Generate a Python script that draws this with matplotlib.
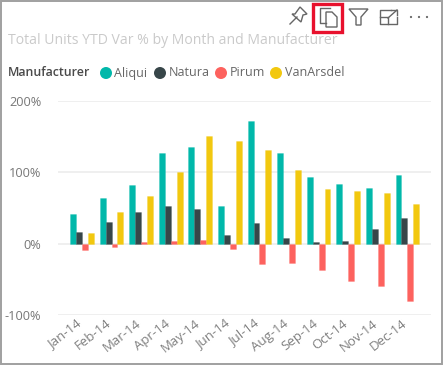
import matplotlib
matplotlib.use("Agg")
import matplotlib.pyplot as plt
from matplotlib.patches import Rectangle, Polygon, Circle
from matplotlib.transforms import ScaledTranslation

months = ["Jan-14","Feb-14","Mar-14","Apr-14","May-14","Jun-14","Jul-14","Aug-14","Sep-14","Oct-14","Nov-14","Dec-14"]
aliqui = [41.6,63.5,82,127.5,136,53,171.5,126.6,93.5,84,78.5,96]
natura = [16,31,45,53,48,12,29.5,8,2.3,4,20.5,36.5]
pirum = [-8.4,-4.7,2,4,5,-7,-28,-27.6,-36.4,-52,-59,-81]
vanarsdel = [15,45,67,101,151,143.5,131,103,76,74,71.5,55]
series = ["Aliqui","Natura","Pirum","VanArsdel"]
values = [aliqui, natura, pirum, vanarsdel]
colors = ["#01B8AA","#374649","#FD625E","#F2C80F"]
yticks = [-100,0,100,200]

FONT = ["Open Sans","DejaVu Sans"]
plt.rcParams["font.family"] = FONT
W,H = 443,365
fig = plt.figure(figsize=(W/100,H/100),dpi=100,facecolor="white")
ax = fig.add_axes([58/W,1-315/H,373/W,214/H])
bw = 0.2
for i,(v,c) in enumerate(zip(values,colors)):
    ax.bar([m+(i-1.5)*bw for m in range(len(months))],v,width=bw,color=c,zorder=3,
           edgecolor=c+"44",linewidth=0.6)
ax.set_ylim(-100,200)
ax.set_xlim(-0.81,11.8)
ax.set_yticks(yticks)
ax.set_yticklabels([f"{t}%" for t in yticks],fontsize=9.2,color="#777777")
ax.set_xticks(range(len(months)))
ax.set_xticklabels(months,rotation=38,ha="right",rotation_mode="anchor",fontsize=9.5,color="#7f7f7f")
ax.tick_params(axis="y",length=0,pad=12)
ax.tick_params(axis="x",length=0,pad=5)
shift = ScaledTranslation(-6/100,5/100,fig.dpi_scale_trans)
for lab in ax.get_xticklabels():
    lab.set_transform(lab.get_transform()+shift)
ax.grid(axis="y",color="#eeeeee",linewidth=1.3,zorder=0)
for s in ax.spines.values():
    s.set_visible(False)

ov = fig.add_axes([0,0,1,1],zorder=5)
ov.set_xlim(0,W); ov.set_ylim(H,0); ov.axis("off"); ov.patch.set_alpha(0)
ov.add_patch(Rectangle((0.5,0.5),W-1.5,H-1.5,fill=False,ec="#a0a0a0",lw=1.4))
ov.text(8,40,"Total Units YTD Var % by Month and Manufacturer",fontsize=10.1,color="#cacaca",va="center")
ov.text(8,73,"Manufacturer",fontsize=8.9,color="#4a4a4a",va="center",fontweight="semibold")
lx = [106,160,221,276]
tx = [114,169,230,285]
for n,c,a,b in zip(series,colors,lx,tx):
    ov.add_patch(Circle((a,73),6,fc=c,ec="none"))
    ov.text(b,73,n,fontsize=9.0,color="#666666",va="center")
# header icons
g = "#666666"
ov.plot([290,297],[24,17],color=g,lw=1)
ov.add_patch(Polygon([[295,14],[300,7],[307,14],[303,15],[301,22],[292,14]],closed=True,fill=False,ec=g,lw=1))
ov.add_patch(Rectangle((313.5,3.5),29,28,fill=False,ec="#E8112D",lw=2.4))
ov.plot([326,320,320,330],[23,23,8,8],color=g,lw=1)
ov.add_patch(Polygon([[326,12],[332,12],[337,17],[337,27],[326,27]],closed=True,fc="white",ec=g,lw=1))
ov.add_patch(Polygon([[349,9],[368,9],[361,17],[361,25],[356,25],[356,17]],closed=True,fill=False,ec=g,lw=1))
ov.plot([391,380,380,397,397],[10,10,24,24,17],color=g,lw=1)
ov.plot([380,388,388],[17,17,24],color=g,lw=1)
ov.plot([388,397],[18,10],color=g,lw=1)
ov.plot([391,397,397],[10,10,15],color=g,lw=1)
for x in [411,419,427]:
    ov.add_patch(Circle((x,17),1.1,fc=g,ec="none"))
fig.savefig("out.png",dpi=100)
